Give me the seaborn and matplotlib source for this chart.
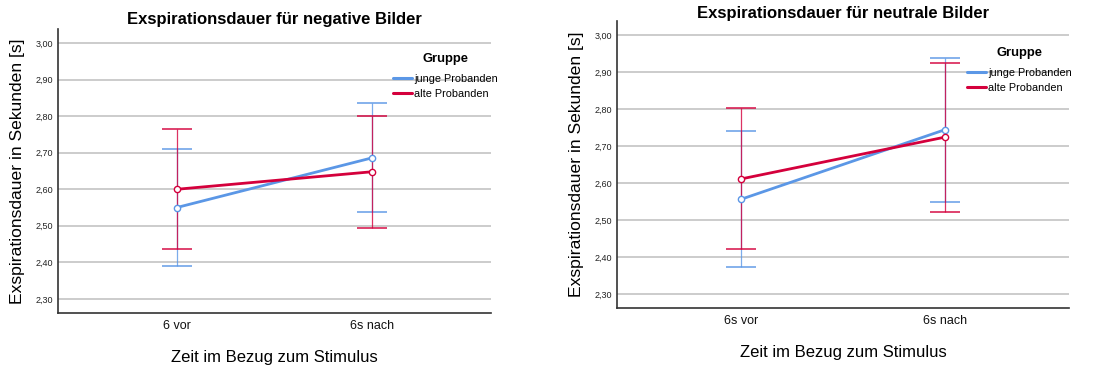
import numpy as np
import pandas as pd
import matplotlib
matplotlib.use("Agg")
import matplotlib.pyplot as plt
from matplotlib.lines import Line2D
import seaborn as sns

# ---------------- data ----------------
groups = ["junge Probanden", "alte Probanden"]
times_neg = ["6 vor", "6s nach"]
times_neu = ["6s vor", "6s nach"]

neg_junge_mean = [2.550, 2.686]
neg_junge_lo = [2.391, 2.538]
neg_junge_hi = [2.710, 2.835]
neg_alte_mean = [2.600, 2.648]
neg_alte_lo = [2.436, 2.494]
neg_alte_hi = [2.765, 2.801]

neu_junge_mean = [2.556, 2.744]
neu_junge_lo = [2.374, 2.549]
neu_junge_hi = [2.741, 2.938]
neu_alte_mean = [2.611, 2.724]
neu_alte_lo = [2.421, 2.522]
neu_alte_hi = [2.802, 2.925]

yticks = [2.30, 2.40, 2.50, 2.60, 2.70, 2.80, 2.90, 3.00]
ytick_labels = ["2,30", "2,40", "2,50", "2,60", "2,70", "2,80", "2,90", "3,00"]

title_neg = "Exspirationsdauer für negative Bilder"
title_neu = "Exspirationsdauer für neutrale Bilder"
ylabel = "Exspirationsdauer in Sekunden [s]"
xlabel = "Zeit im Bezug zum Stimulus"
legend_title = "Gruppe"

# ---------------- style ----------------
sns.set_theme(style="white")
plt.rcParams["font.family"] = ["Liberation Sans", "DejaVu Sans"]
plt.rcParams["text.color"] = "black"
plt.rcParams["axes.labelcolor"] = "black"

colors = {"junge Probanden": "#5b97e6", "alte Probanden": "#d4003c"}

fig = plt.figure(figsize=(10.95, 3.69), dpi=100)
ax1 = fig.add_axes([0.0527, 0.1526, 0.3957, 0.7688])
ax2 = fig.add_axes([0.5632, 0.1653, 0.4131, 0.7786])


def make_df(times, jm, am):
    rows = []
    for g, means in zip(groups, [jm, am]):
        for t, m in zip(times, means):
            rows.append({"Zeit": t, "Gruppe": g, "Mittelwert": m})
    return pd.DataFrame(rows)


def draw(ax, times, jm, jlo, jhi, am, alo, ahi, title, title_pad, leg_anchor):
    df = make_df(times, jm, am)
    # error bars (CI)
    for g, m, lo, hi in [(groups[0], jm, jlo, jhi), (groups[1], am, alo, ahi)]:
        m = np.array(m); lo = np.array(lo); hi = np.array(hi)
        ax.errorbar(np.arange(len(times)), m, yerr=[m - lo, hi - m], fmt="none",
                    ecolor=colors[g], elinewidth=0.9, capsize=11, capthick=1.3,
                    alpha=0.8, zorder=3)
    sns.pointplot(data=df, x="Zeit", y="Mittelwert", hue="Gruppe", order=times,
                  hue_order=groups, palette=colors, errorbar=None, dodge=False,
                  markers="o", linestyles="-", linewidth=2.0, markersize=4.5,
                  markeredgewidth=1.0, markerfacecolor="white", legend=False,
                  ax=ax, zorder=4)
    ax.set_xlim(-0.61, 1.61)
    ax.set_ylim(2.262, 3.039)
    ax.set_yticks(yticks)
    ax.set_yticklabels(ytick_labels, fontsize=6.5, color="#222222")
    ax.set_xticks(range(len(times)))
    ax.set_xticklabels(times, fontsize=9, color="#111111")
    ax.tick_params(axis="both", length=0)
    ax.tick_params(axis="y", pad=3)
    ax.tick_params(axis="x", pad=5)
    ax.yaxis.grid(True, color="#c8c8c8", linewidth=1.3)
    ax.xaxis.grid(False)
    ax.set_axisbelow(True)
    for s in ["top", "right"]:
        ax.spines[s].set_visible(False)
    for s in ["left", "bottom"]:
        ax.spines[s].set_color("#333333")
        ax.spines[s].set_linewidth(1.2)
    ax.set_title(title, fontsize=12, fontweight="bold", pad=title_pad, color="black")
    ax.set_ylabel(ylabel, fontsize=12.6, labelpad=8, color="black")
    ax.set_xlabel(xlabel, fontsize=12, labelpad=13, color="black")
    handles = [Line2D([], [], color=colors[g], linewidth=2.2) for g in groups]
    leg = ax.legend(handles, groups, title=legend_title, loc="upper left",
                    bbox_to_anchor=leg_anchor, frameon=False, fontsize=7.8,
                    handlelength=1.8, handletextpad=0.2, borderpad=0,
                    borderaxespad=0, labelspacing=0.45,
                    title_fontproperties={"weight": "bold", "size": 9.4})
    leg._legend_box.sep = 7


draw(ax1, times_neg, neg_junge_mean, neg_junge_lo, neg_junge_hi,
     neg_alte_mean, neg_alte_lo, neg_alte_hi, title_neg, 3.5, (0.773, 0.917))
draw(ax2, times_neu, neu_junge_mean, neu_junge_lo, neu_junge_hi,
     neu_alte_mean, neu_alte_lo, neu_alte_hi, title_neu, 2, (0.774, 0.91))

fig.savefig("out.png", dpi=100)
